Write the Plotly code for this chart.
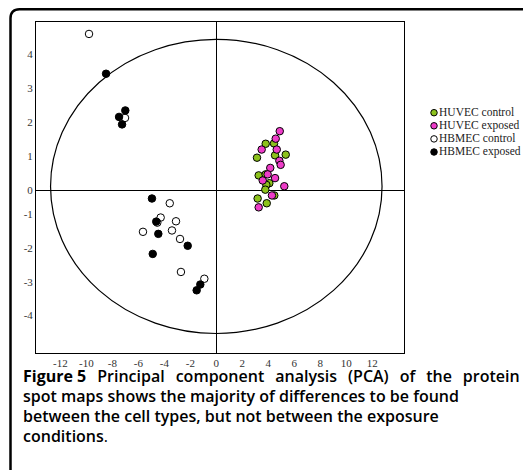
import plotly.graph_objects as go

# ---------------- data ----------------
huvec_ctrl_x = [3.80, 4.44, 3.13, 4.52, 5.34, 3.26, 3.80, 4.08, 3.85, 3.77, 4.46, 3.18, 3.88]
huvec_ctrl_y = [1.36, 1.37, 0.95, 1.02, 1.04, 0.43, 0.46, 0.20, 0.15, 0.01, -0.16, -0.25, -0.39]

huvec_exp_x = [4.88, 4.57, 3.49, 4.65, 4.85, 4.95, 4.15, 3.95, 4.52, 3.57, 5.23, 4.28, 3.26]
huvec_exp_y = [1.73, 1.51, 1.19, 1.19, 0.86, 0.74, 0.65, 0.46, 0.35, 0.28, 0.11, -0.16, -0.51]

hbmec_ctrl_x = [-9.79, -7.02, -3.58, -4.28, -4.54, -3.10, -5.64, -3.41, -2.79, -2.72, -0.92]
hbmec_ctrl_y = [4.59, 2.12, -0.39, -0.81, -0.96, -0.92, -1.23, -1.19, -1.44, -2.41, -2.61]

hbmec_exp_x = [-8.48, -7.00, -7.48, -7.25, -4.95, -4.62, -4.46, -2.20, -4.89, -1.23, -1.51]
hbmec_exp_y = [3.42, 2.34, 2.15, 1.93, -0.25, -0.93, -1.29, -1.64, -1.88, -2.78, -2.95]

series_names = ["HUVEC control", "HUVEC exposed", "HBMEC control", "HBMEC exposed"]

x_tickvals = [-12, -10, -8, -6, -4, -2, 0, 2, 4, 6, 8, 10, 12]
x_ticktext = ["-12", "-10", "-8", "-6", "-4", "-2", "0", "2", "4", "6", "8", "10", "12"]
# tick label positions as they sit in the source figure (negative labels are set closer together)
y_tickvals = [-3.68, -2.70, -1.72, -0.72, 0, 1, 2, 3, 4]
y_ticktext = ["-4", "-3", "-2", "-1", "0", "1", "2", "3", "4"]

# ellipse (Hotelling) extents
ell_x = [-12.75, 12.75]
ell_y = [-4.22, 4.43]

caption_line1_words = ["Figure 5", "Principal", "component", "analysis", "(PCA)", "of", "the", "protein"]
caption_lines_rest = [
    "spot maps shows the majority of differences to be found",
    "between the cell types, but not between the exposure",
    "conditions",
]

# ---------------- styles ----------------
W, H = 523, 470
fills = ["#8cc21c", "#ee3cc8", "#ffffff", "#000000"]
mk = dict(size=7.5, line=dict(color="#000000", width=1))
serif = "Liberation Serif, Times New Roman, serif"
sans = "Open Sans, Noto Sans, sans-serif"

fig = go.Figure()
groups = [
    (huvec_ctrl_x, huvec_ctrl_y),
    (huvec_exp_x, huvec_exp_y),
    (hbmec_ctrl_x, hbmec_ctrl_y),
    (hbmec_exp_x, hbmec_exp_y),
]
for (gx, gy), name, col in zip(groups, series_names, fills):
    fig.add_trace(go.Scatter(x=gx, y=gy, mode="markers", name=name,
                             marker=dict(color=col, **mk), showlegend=False,
                             xaxis="x", yaxis="y"))

# manual legend on a pixel-space overlay axis
leg_x = 434
leg_y0, leg_dy = 112.7, 13.1
for i, (name, col) in enumerate(zip(series_names, fills)):
    fig.add_trace(go.Scatter(x=[leg_x], y=[leg_y0 + i * leg_dy], mode="markers+text",
                             text=[name], textposition="middle right",
                             textfont=dict(family=serif, size=11.5, color="#222"),
                             marker=dict(color=col, size=6.5, line=dict(color="#000", width=1)),
                             showlegend=False, hoverinfo="skip",
                             xaxis="x2", yaxis="y2", cliponaxis=False))

x0p, x1p = 36, 404
y0p, y1p = 22, 353
px_per_x = 13.0
px_per_y = 34.0
x_zero_px, y_zero_px = 216.3, 190.0
xr = [(x0p - x_zero_px) / px_per_x, (x1p - x_zero_px) / px_per_x]
yr = [(y_zero_px - y1p) / px_per_y, (y_zero_px - y0p) / px_per_y]

axis_common = dict(showline=True, mirror=True, linecolor="#000", linewidth=1,
                   zeroline=True, zerolinecolor="#000", zerolinewidth=1,
                   showgrid=False, ticks="", ticklen=0,
                   tickfont=dict(family=serif, size=11, color="#333"))

fig.update_layout(
    width=W, height=H,
    margin=dict(l=0, r=0, t=0, b=0),
    paper_bgcolor="#fff", plot_bgcolor="rgba(0,0,0,0)",
    showlegend=False,
    xaxis=dict(domain=[x0p / W, x1p / W], range=xr, tickvals=x_tickvals,
               ticktext=x_ticktext, anchor="y", **axis_common),
    yaxis=dict(domain=[1 - y1p / H, 1 - y0p / H], range=yr, tickvals=y_tickvals,
               ticktext=y_ticktext, anchor="x", **axis_common),
    xaxis2=dict(domain=[0, 1], range=[0, W], visible=False, anchor="y2"),
    yaxis2=dict(domain=[0, 1], range=[H, 0], visible=False, anchor="x2"),
)

# ellipse
fig.add_shape(type="circle", xref="x", yref="y",
              x0=ell_x[0], x1=ell_x[1], y0=ell_y[0], y1=ell_y[1],
              line=dict(color="#000", width=1.2), layer="below")

# outer rounded border (top + left)
bx, by, r = 10.5, 9.3, 9
path = (f"M {bx/W},0 L {bx/W},{1-(by+r)/H} "
        f"Q {bx/W},{1-by/H} {(bx+r)/W},{1-by/H} L 1,{1-by/H}")
fig.add_shape(type="path", xref="paper", yref="paper", path=path,
              line=dict(color="#000", width=2.5))

# caption
gap = " \u00a0\u2009"
line1 = "<b>" + caption_line1_words[0] + "</b>" + "".join(gap + w for w in caption_line1_words[1:])
caption_lines = [line1] + caption_lines_rest[:2] + [caption_lines_rest[2] + "<span style='font-weight:400'>.</span>"]
cap_y = [376, 396, 416, 436]
for txt, cy in zip(caption_lines, cap_y):
    fig.add_annotation(text=txt, xref="paper", yref="paper", x=21 / W, y=1 - cy / H,
                       xanchor="left", yanchor="middle", showarrow=False,
                       font=dict(family=sans, size=16, color="#000", weight=600))

fig.write_html("out.html")
